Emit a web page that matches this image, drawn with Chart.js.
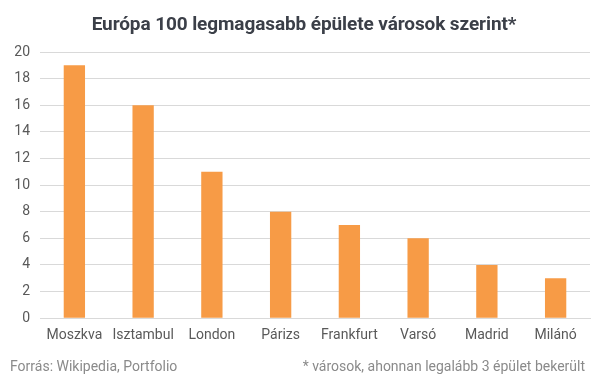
<!DOCTYPE html>
<html><head><meta charset="utf-8">
<script src="https://cdn.jsdelivr.net/npm/chart.js@4"></script>
<style>html,body{margin:0;padding:0;background:#fff}#w{width:605px;height:379px;position:relative}</style>
</head><body><div id="w"><canvas id="c"></canvas></div>
<script>
const categories = ["Moszkva","Isztambul","London","Párizs","Frankfurt","Varsó","Madrid","Milánó"];
const values = [19,16,11,8,7,6,4,3];
const yTicks = {min:0,max:20,step:2};
const titleText = "Európa 100 legmagasabb épülete városok szerint*";
const sourceText = "Forrás: Wikipedia, Portfolio";
const noteText = "* városok, ahonnan legalább 3 épület bekerült";

const extras = {
  id:'extras',
  afterDraw(chart){
    const ctx = chart.ctx;
    ctx.save();
    ctx.fillStyle = '#3b3f48';
    ctx.font = 'bold 19px Roboto';
    try{ ctx.letterSpacing = '-0.1px'; }catch(e){}
    ctx.textAlign='center'; ctx.textBaseline='alphabetic';
    ctx.fillText(titleText, 304, 30);
    try{ ctx.letterSpacing = '0px'; }catch(e){}
    ctx.font = '14px Roboto';
    ctx.fillStyle = '#8a8a8a';
    ctx.textBaseline='middle';
    ctx.textAlign='left';
    ctx.fillText(sourceText, 10, 367);
    ctx.textAlign='right';
    ctx.fillText(noteText, 585, 367);
    ctx.restore();
  }
};

new Chart(document.getElementById('c'), {
  type:'bar',
  data:{labels:categories, datasets:[{data:values, backgroundColor:'#F79B46', barPercentage:0.31, categoryPercentage:1}]},
  options:{
    responsive:true, maintainAspectRatio:false, animation:false,
    layout:{padding:{top:52,right:15,bottom:26,left:4}},
    plugins:{legend:{display:false}, tooltip:{enabled:false}},
    scales:{
      x:{grid:{display:false, drawTicks:false}, border:{display:true,color:'#d9d9d9'},
         ticks:{color:'#595959', font:{family:'Roboto',size:14}, padding:9, maxRotation:0, autoSkip:false}},
      y:{min:yTicks.min,max:yTicks.max, grid:{color:'#d9d9d9', drawTicks:false}, border:{display:false},
         afterFit(s){ s.width = 36; },
         ticks:{stepSize:yTicks.step, color:'#595959', font:{family:'Roboto',size:14}, padding:10}}
    }
  },
  plugins:[extras]
});
</script></body></html>
